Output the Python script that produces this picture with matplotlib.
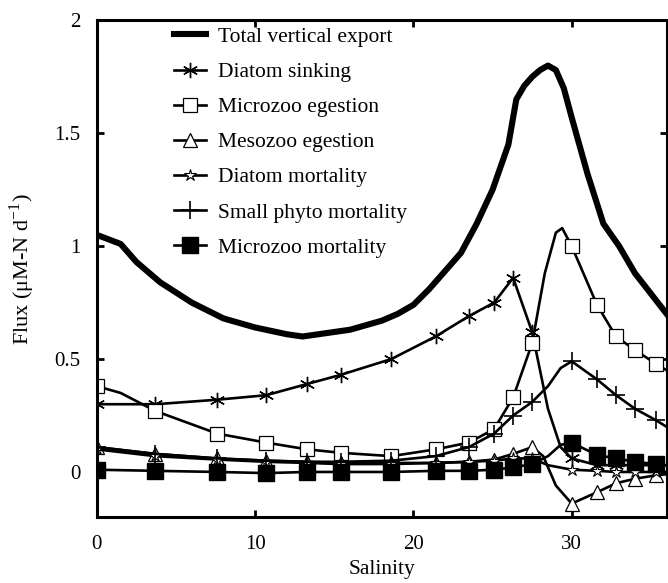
import numpy as np
import matplotlib
matplotlib.use("Agg")
from matplotlib import pyplot as plt

plt.rcParams['font.family'] = ['Liberation Serif', 'DejaVu Serif']
plt.rcParams['mathtext.fontset'] = 'custom'
plt.rcParams['mathtext.rm'] = 'Liberation Serif'

# salinity of the model stations (where the markers sit)
stations = [0, 3.7, 7.6, 10.7, 13.3, 15.4, 18.6, 21.4, 23.5, 25.1, 26.3, 27.5, 30.0, 31.6, 32.8, 34.0, 35.3]

# total vertical export (no markers)
total_x = [0, 1.5, 2.5, 4, 6, 8, 10, 12, 13, 14, 15, 16, 17, 18, 19, 20, 21, 22, 23, 24, 25, 26, 26.5,
           27, 27.5, 28, 28.5, 29, 29.5, 30, 31, 32, 33, 34, 35, 36]
total_y = [1.05, 1.01, 0.93, 0.84, 0.75, 0.68, 0.64, 0.61, 0.60, 0.61, 0.62, 0.63, 0.65, 0.67, 0.70,
           0.74, 0.81, 0.89, 0.97, 1.10, 1.25, 1.45, 1.65, 1.71, 1.75, 1.78, 1.80, 1.78, 1.70, 1.57,
           1.32, 1.10, 1.00, 0.88, 0.79, 0.70]

diatom_sink_x = [0, 3.7, 7.6, 10.7, 13.3, 15.4, 18.6, 21.4, 23.5, 25.1, 26.3, 27.5, 28.5, 29.3,
                 30.0, 31.6, 32.8, 34.0, 35.3, 36]
diatom_sink_y = [0.30, 0.30, 0.32, 0.34, 0.39, 0.43, 0.50, 0.60, 0.69, 0.75, 0.86, 0.62, 0.28, 0.11,
                 0.06, 0.03, 0.03, 0.03, 0.03, 0.03]

micro_eg_x = [0, 1.5, 3.7, 7.6, 10.7, 13.3, 15.4, 18.6, 21.4, 23.5, 25.1, 26.3, 27.5, 28.3, 29.0,
              29.4, 30.0, 31.6, 32.8, 34.0, 35.3, 36]
micro_eg_y = [0.38, 0.35, 0.27, 0.17, 0.13, 0.10, 0.085, 0.07, 0.10, 0.13, 0.19, 0.33, 0.57, 0.88,
              1.06, 1.08, 1.00, 0.74, 0.60, 0.54, 0.48, 0.45]

meso_eg_x = [0, 3.7, 7.6, 10.7, 13.3, 15.4, 18.6, 21.4, 23.5, 25.1, 26.3, 27.5, 28.2, 29.0,
             30.0, 31.6, 32.8, 34.0, 35.3, 36]
meso_eg_y = [0.11, 0.08, 0.06, 0.05, 0.045, 0.04, 0.04, 0.04, 0.045, 0.055, 0.08, 0.11, 0.07, -0.06,
             -0.14, -0.09, -0.05, -0.03, -0.015, -0.01]

diatom_mort_x = [0, 3.7, 7.6, 10.7, 13.3, 15.4, 18.6, 21.4, 23.5, 25.1, 26.3, 27.5, 28.5,
                 30.0, 31.6, 32.8, 34.0, 35.3, 36]
diatom_mort_y = [0.10, 0.07, 0.055, 0.045, 0.04, 0.035, 0.035, 0.04, 0.045, 0.05, 0.06, 0.06, 0.03,
                 0.01, 0.005, 0.0, 0.0, 0.0, 0.0]

small_phyto_x = [0, 3.7, 7.6, 10.7, 13.3, 15.4, 18.6, 21.4, 23.5, 25.1, 26.3, 27.5, 28.5, 29.3,
                 30.0, 31.6, 32.8, 34.0, 35.3, 36]
small_phyto_y = [0.11, 0.08, 0.06, 0.05, 0.045, 0.045, 0.05, 0.07, 0.11, 0.17, 0.25, 0.31, 0.38,
                 0.46, 0.49, 0.41, 0.34, 0.28, 0.23, 0.20]

micro_mort_x = [0, 3.7, 7.6, 10.7, 13.3, 15.4, 18.6, 21.4, 23.5, 25.1, 26.3, 27.5, 28.5, 29.3,
                30.0, 31.6, 32.8, 34.0, 35.3, 36]
micro_mort_y = [0.01, 0.005, 0.0, -0.005, 0.0, 0.0, 0.0, 0.005, 0.005, 0.01, 0.02, 0.035, 0.07,
                0.12, 0.13, 0.075, 0.06, 0.045, 0.035, 0.03]

labels = ["Total vertical export", "Diatom sinking", "Microzoo egestion", "Mesozoo egestion",
          "Diatom mortality", "Small phyto mortality", "Microzoo mortality"]


def marks(xs):
    # indices of the points that are model stations
    return [i for i, x in enumerate(xs) if x in stations]


fig = plt.figure(figsize=(6.68, 5.83), dpi=100)
ax = fig.add_axes([0.145, 0.113, 0.853, 0.852])

k = dict(color='k', lw=1.9)
ax.plot(total_x, total_y, color='k', lw=4.4, label=labels[0], zorder=5)
ax.plot(diatom_sink_x, diatom_sink_y, marker=(6, 2, 0), ms=11, mew=1.0,
        markevery=marks(diatom_sink_x), label=labels[1], **k)
ax.plot(micro_eg_x, micro_eg_y, marker='s', ms=10, mfc='white', mew=0.9,
        markevery=marks(micro_eg_x), label=labels[2], **k)
ax.plot(meso_eg_x, meso_eg_y, marker='^', ms=10, mfc='white', mew=0.9,
        markevery=marks(meso_eg_x), label=labels[3], **k)
ax.plot(diatom_mort_x, diatom_mort_y, marker='*', ms=9, mfc='white', mew=0.8,
        markevery=marks(diatom_mort_x), label=labels[4], **k)
ax.plot(small_phyto_x, small_phyto_y, marker='+', ms=13, mew=1.2,
        markevery=marks(small_phyto_x), label=labels[5], **k)
ax.plot(micro_mort_x, micro_mort_y, marker='s', ms=11, mfc='k',
        markevery=marks(micro_mort_x), label=labels[6], **k)

ax.set_xlim(0, 36)
ax.set_ylim(-0.2, 2)
ax.set_xticks([0, 10, 20, 30])
ax.set_yticks([0, 0.5, 1, 1.5, 2])
ax.set_yticklabels(['0', '0.5', '1', '1.5', '2'])
ax.tick_params(direction='in', length=5, width=2, top=True, right=True, labelsize=15, pad=13)
ax.tick_params(axis='y', pad=12)
for s in ax.spines.values():
    s.set_linewidth(2.2)
ax.set_xlabel('Salinity', fontsize=15.5, labelpad=4)
ax.set_ylabel(r'Flux ($\mathrm{\mu}$M-N d$^{-1}$)', fontsize=16, labelpad=12)

ax.legend(loc='upper left', bbox_to_anchor=(0.135, 0.987), frameon=False, fontsize=15.5,
          handlelength=1.5, handletextpad=0.55, labelspacing=0.7, borderaxespad=0, borderpad=0)

fig.savefig('out.png', dpi=100)
